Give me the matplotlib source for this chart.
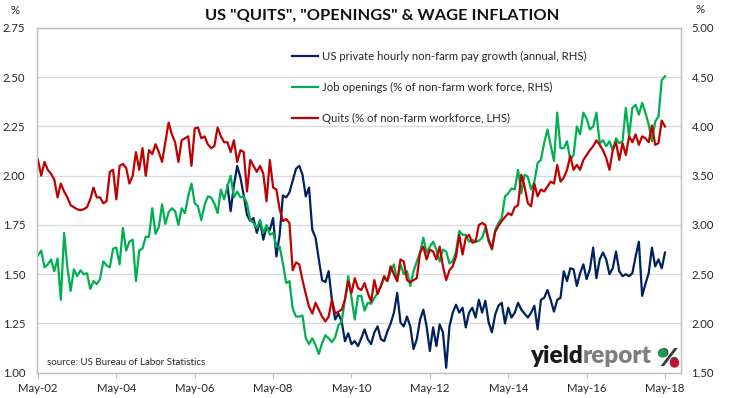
import numpy as np
import matplotlib
matplotlib.use("Agg")
import matplotlib.pyplot as plt
from matplotlib.lines import Line2D
from matplotlib.patches import Ellipse

plt.rcParams['font.family'] = ['Lato', 'DejaVu Sans']

# ---------------- data (monthly, May-2002 .. May-2018) ----------------
tick_labels = ["May-02", "May-04", "May-06", "May-08", "May-10",
               "May-12", "May-14", "May-16", "May-18"]

# Quits (% of non-farm workforce, LHS)
quits = [
    2.08, 2.00, 2.07, 2.03, 2.01, 1.98, 1.89, 1.96, 1.92, 1.89, 1.85, 1.84,
    1.83, 1.825, 1.83, 1.84, 1.88, 1.94, 1.89, 1.89, 1.86, 1.87, 2.02, 2.03,
    1.88, 2.05, 2.06, 2.04, 1.96, 2.00, 2.12, 2.03, 2.14, 2.00, 2.13, 2.11,
    2.16, 2.12, 2.07, 2.17, 2.27, 2.21, 2.17, 2.07, 2.18, 2.19, 2.20, 2.05,
    2.24, 2.245, 2.19, 2.20, 2.16, 2.14, 2.15, 2.245, 2.20, 2.17, 2.17, 2.12,
    2.18, 2.07, 2.13, 2.12, 1.92, 2.08, 2.05, 2.02, 2.05, 2.01, 1.87, 2.08,
    1.94, 1.93, 1.83, 1.77, 1.78, 1.76, 1.52, 1.56, 1.55, 1.47, 1.40, 1.335,
    1.30, 1.355, 1.32, 1.285, 1.26, 1.285, 1.37, 1.30, 1.31, 1.32, 1.37, 1.465,
    1.405, 1.48, 1.43, 1.42, 1.455, 1.405, 1.36, 1.47, 1.40, 1.44, 1.49, 1.465,
    1.54, 1.50, 1.465, 1.575, 1.565, 1.47, 1.46, 1.47, 1.48, 1.61, 1.64, 1.575,
    1.625, 1.615, 1.575, 1.64, 1.54, 1.47, 1.52, 1.54, 1.59, 1.70, 1.60, 1.685,
    1.70, 1.66, 1.665, 1.75, 1.76, 1.75, 1.675, 1.63, 1.715, 1.745, 1.77, 1.79,
    1.81, 1.80, 1.84, 1.85, 2.005, 1.945, 1.86, 1.845, 1.96, 1.895, 1.93, 1.92,
    1.945, 1.97, 1.96, 2.055, 1.97, 1.99, 2.03, 2.10, 2.03, 2.055, 2.03, 2.08,
    2.105, 2.13, 2.15, 2.18, 2.157, 2.13, 2.09, 2.03, 2.13, 2.17, 2.08, 2.165,
    2.105, 2.20, 2.17, 2.21, 2.157, 2.20, 2.19, 2.17, 2.255, 2.157, 2.165, 2.28,
    2.25,
]

# Job openings (% of non-farm work force, RHS)
openings = [
    2.69, 2.74, 2.57, 2.60, 2.65, 2.53, 2.66, 2.24, 2.92, 2.57, 2.33, 2.55,
    2.48, 2.54, 2.50, 2.51, 2.35, 2.43, 2.40, 2.45, 2.63, 2.59, 2.57, 2.76,
    2.77, 2.60, 2.97, 2.74, 2.83, 2.85, 2.43, 2.74, 2.76, 2.88, 2.88, 3.17,
    2.91, 2.98, 3.21, 3.01, 3.13, 3.17, 3.14, 3.00, 3.17, 3.12, 3.29, 3.42,
    3.22, 3.19, 3.05, 3.20, 3.29, 3.28, 3.22, 3.12, 3.36, 3.26, 3.39, 3.50,
    3.28, 3.34, 3.28, 3.29, 3.22, 3.05, 3.02, 2.97, 3.05, 2.92, 3.00, 2.90,
    2.92, 2.78, 2.78, 2.61, 2.41, 2.43, 2.15, 2.07, 2.07, 2.08, 1.85, 1.79,
    1.85, 1.78, 1.69, 1.80, 1.88, 1.85, 1.81, 1.86, 1.98, 2.02, 2.24, 2.48,
    2.26, 2.04, 2.28, 2.28, 2.13, 2.21, 2.20, 2.26, 2.31, 2.38, 2.46, 2.43,
    2.53, 2.60, 2.43, 2.60, 2.50, 2.53, 2.38, 2.53, 2.63, 2.72, 2.87, 2.72,
    2.78, 2.83, 2.75, 2.63, 2.75, 2.73, 2.61, 2.63, 2.73, 2.94, 2.90, 2.90,
    2.83, 2.85, 2.83, 2.84, 2.87, 2.97, 2.83, 2.75, 2.95, 3.02, 3.07, 3.29,
    3.32, 3.37, 3.36, 3.56, 3.32, 3.51, 3.49, 3.36, 3.44, 3.63, 3.66, 3.83,
    3.97, 3.81, 3.65, 4.14, 3.78, 3.78, 3.85, 3.66, 3.71, 4.00, 3.92, 4.14,
    4.08, 3.97, 4.00, 4.14, 3.83, 3.86, 3.80, 3.85, 3.76, 3.88, 3.83, 3.85,
    4.19, 3.90, 4.19, 4.22, 4.12, 4.24, 4.14, 4.02, 3.85, 4.05, 4.10, 4.47,
    4.51,
]

# US private hourly non-farm pay growth (annual, RHS), from Mar-2007
wage_start = 58
wages = [
    3.40, 3.14, 3.40, 3.60, 3.48, 3.30, 3.10, 3.04, 3.07, 2.92, 3.04, 2.85,
    2.98, 2.95, 3.07, 2.68, 2.90, 3.30, 3.28, 3.33, 3.45, 3.57, 3.60, 3.51,
    3.29, 3.38, 2.95, 2.87, 2.65, 2.44, 2.42, 2.53, 2.24, 2.04, 2.10, 2.02,
    1.82, 1.90, 1.79, 1.82, 1.77, 1.85, 1.94, 1.84, 1.79, 1.91, 1.97, 1.84,
    1.82, 1.92, 2.00, 2.11, 2.31, 2.01, 1.97, 2.07, 1.97, 1.74, 1.84, 2.04,
    2.14, 1.97, 1.72, 1.96, 1.77, 1.99, 1.91, 1.55, 1.97, 2.11, 2.19, 2.11,
    2.16, 1.96, 2.11, 2.16, 2.06, 2.24, 2.11, 2.23, 2.01, 1.91, 2.09, 2.18,
    2.21, 2.00, 2.16, 2.06, 2.11, 2.21, 2.14, 2.10, 2.06, 2.11, 2.18, 1.94,
    2.24, 2.26, 2.34, 2.24, 2.12, 2.24, 2.26, 2.53, 2.43, 2.56, 2.55, 2.38,
    2.51, 2.60, 2.45, 2.55, 2.77, 2.46, 2.65, 2.72, 2.65, 2.50, 2.56, 2.73,
    2.53, 2.48, 2.50, 2.48, 2.51, 2.68, 2.83, 2.28, 2.40, 2.51, 2.77, 2.58,
    2.65, 2.56, 2.72,
]

labels = ["US private hourly non-farm pay growth (annual, RHS)",
          "Job openings (% of non-farm work force, RHS)",
          "Quits (% of non-farm workforce, LHS)"]

NAVY, GREEN, RED = "#002060", "#00B050", "#C00000"
TXT = "#262626"
W, H = 731, 398

# ---------------- figure ----------------
fig = plt.figure(figsize=(W / 100, H / 100), dpi=100)
left, right, top, bottom = 37, 681, 28, 372.7
ax2 = fig.add_axes([left / W, 1 - bottom / H, (right - left) / W, (bottom - top) / H])
ax = ax2.twinx()
ax.yaxis.tick_left()
ax.yaxis.set_label_position("left")
ax2.yaxis.tick_right()
ax2.yaxis.set_label_position("right")

x_all = np.arange(len(quits))
x_w = np.arange(wage_start, wage_start + len(wages))

ax2.plot(x_w, wages, color=NAVY, lw=1.6, solid_joinstyle="round")
ax2.plot(np.arange(len(openings)), openings, color=GREEN, lw=1.6, solid_joinstyle="round")
ax.plot(x_all, quits, color=RED, lw=1.6, solid_joinstyle="round")

ax.set_xlim(-0.3, 196.9)
ax2.set_xlim(-0.3, 196.9)
ax.set_ylim(1.0, 2.75)
ax2.set_ylim(1.5, 5.0)

ax.set_yticks(np.arange(1.0, 2.76, 0.25))
ax.set_yticklabels([f"{v:.2f}" for v in np.arange(1.0, 2.76, 0.25)])
ax2.set_yticks(np.arange(1.5, 5.01, 0.5))
ax2.set_yticklabels([f"{v:.2f}" for v in np.arange(1.5, 5.01, 0.5)])

ax2.set_xticks(np.arange(0, 193, 24))
ax2.set_xticklabels(tick_labels)
ax.tick_params(axis="x", which="both", bottom=False, labelbottom=False)

ax2.grid(axis="y", color="#D9D9D9", lw=0.9)
ax2.set_axisbelow(True)

ax.tick_params(axis="y", length=0, pad=8.5, labelsize=8.2, labelcolor=TXT)
ax2.tick_params(axis="y", length=0, pad=7.5, labelsize=8.2, labelcolor=TXT)
ax2.tick_params(axis="x", length=3.5, width=0.8, color="#BFBFBF", pad=4,
                labelsize=8.2, labelcolor=TXT)

for a in (ax, ax2):
    for s in a.spines.values():
        s.set_color("#BFBFBF")
        s.set_linewidth(0.9)

ax.set_zorder(ax2.get_zorder() + 1)
ax.patch.set_visible(False)
ax2.patch.set_visible(True)
ax2.patch.set_facecolor("white")

# legend
handles = [Line2D([], [], color=c, lw=1.6) for c in (NAVY, GREEN, RED)]
leg = ax.legend(handles, labels, loc="upper left",
                bbox_to_anchor=(292 / W, 1 - 50.5 / H), bbox_transform=fig.transFigure,
                frameon=False, fontsize=8.2, labelspacing=1.75, handlelength=2.3,
                handletextpad=0.35, borderpad=0, borderaxespad=0)
for t in leg.get_texts():
    t.set_color(TXT)


def fx(px):
    return px / W


def fy(py):
    return 1 - py / H


fig.text(fx(382), fy(15.5), 'US "QUITS", "OPENINGS" & WAGE INFLATION',
         ha="center", va="center", fontsize=11.8, fontweight="bold", color="#111111")
fig.text(fx(15.5), fy(10.5), "%", ha="center", va="center", fontsize=8.2, color=TXT)
fig.text(fx(700), fy(9.5), "%", ha="center", va="center", fontsize=8.2, color=TXT)
fig.text(fx(47), fy(362.5), "source: US Bureau of Labor Statistics",
         ha="left", va="center", fontsize=7.0, color=TXT)

# yieldreport logo
t1 = fig.text(fx(530), fy(363), "yield", ha="left", va="baseline",
              fontsize=17.5, fontweight="heavy", color="#1A1A1A")
fig.canvas.draw()
bb = t1.get_window_extent()
fig.text(bb.x1 / fig.bbox.width + 0.0005, fy(363), "report", ha="left", va="baseline",
         fontsize=17.5, fontweight="heavy", color="#7F7F7F")
fig.text(fx(668.5), fy(366), "%", ha="center", va="baseline",
         fontsize=17.5, fontweight="heavy", color="#3A3A3A")
fig.add_artist(Ellipse((fx(662.5), fy(353)), 8 / W, 8 / H,
                       transform=fig.transFigure, color="#1E9A48", zorder=10))
fig.add_artist(Ellipse((fx(674.5), fy(363)), 8 / W, 8 / H,
                       transform=fig.transFigure, color="#C8102E", zorder=10))

fig.savefig("out.png", dpi=100)
